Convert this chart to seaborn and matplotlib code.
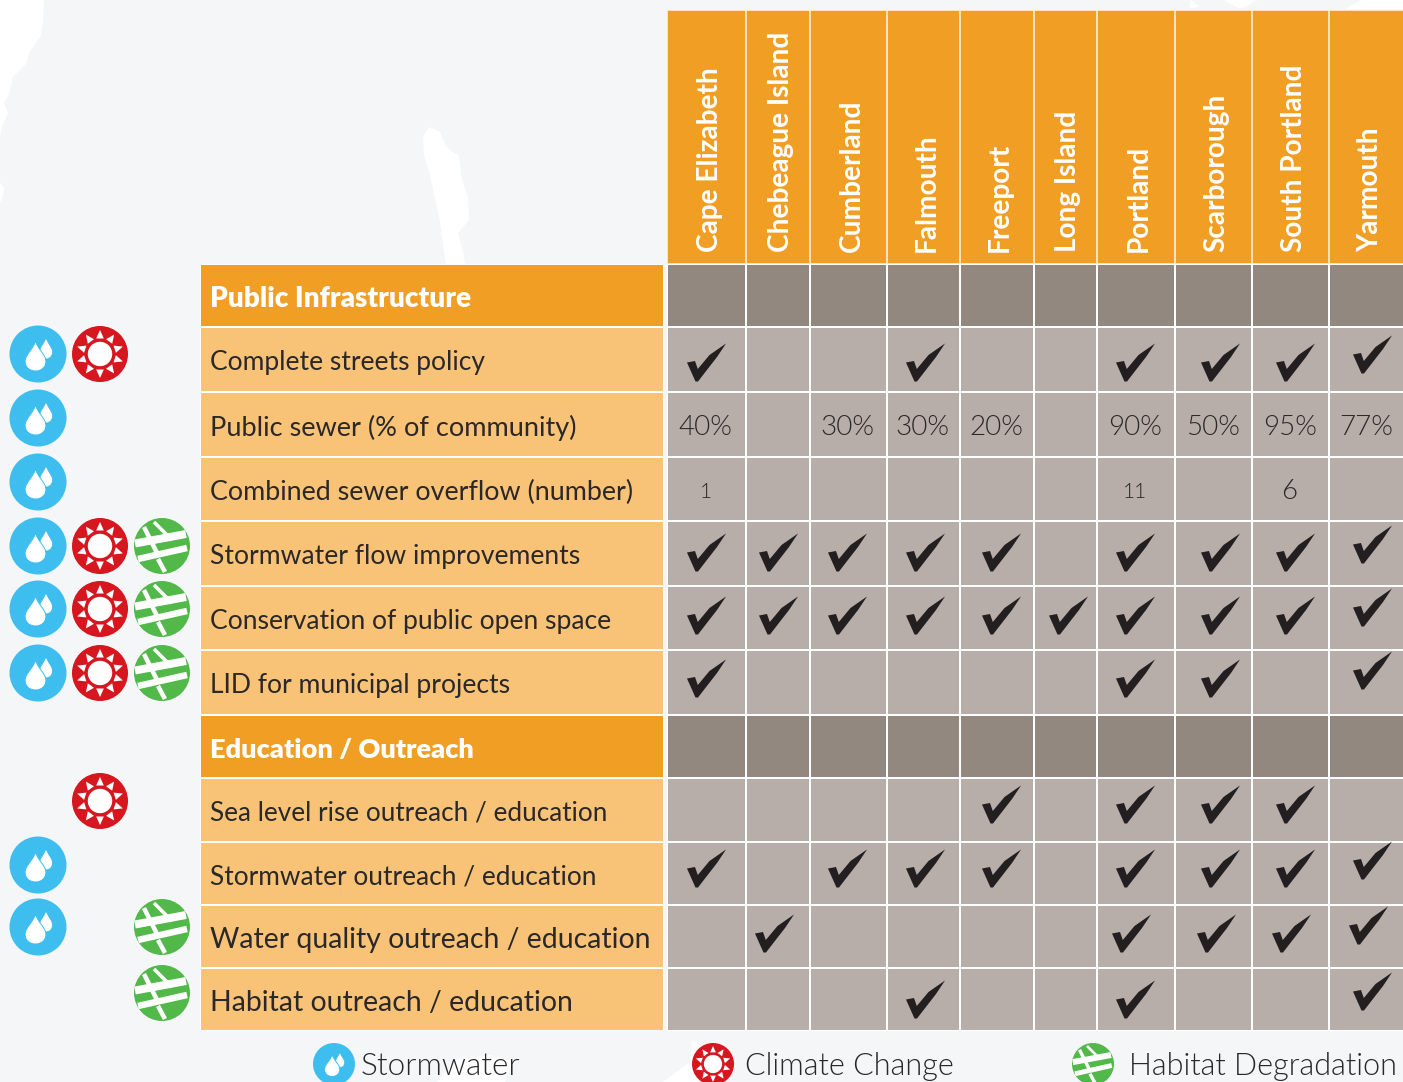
import numpy as np
import pandas as pd
import matplotlib
matplotlib.use("Agg")
import matplotlib.pyplot as plt
import seaborn as sns
from matplotlib.colors import ListedColormap
from matplotlib.patches import Circle, Polygon, PathPatch
from matplotlib.path import Path

# data
towns = ["Cape Elizabeth", "Chebeague Island", "Cumberland", "Falmouth", "Freeport",
         "Long Island", "Portland", "Scarborough", "South Portland", "Yarmouth"]
row_labels = ["Public Infrastructure", "Complete streets policy", "Public sewer (% of community)",
              "Combined sewer overflow (number)", "Stormwater flow improvements",
              "Conservation of public open space", "LID for municipal projects",
              "Education / Outreach", "Sea level rise outreach / education",
              "Stormwater outreach / education", "Water quality outreach / education",
              "Habitat outreach / education"]
blank = [""] * 10
complete_streets = ["x", "", "", "x", "", "", "x", "x", "x", "x"]
public_sewer = ["40%", "", "30%", "30%", "20%", "", "90%", "50%", "95%", "77%"]
combined_overflow = ["1", "", "", "", "", "", "11", "", "6", ""]
flow_improvements = ["x", "x", "x", "x", "x", "", "x", "x", "x", "x"]
open_space = ["x", "x", "x", "x", "x", "x", "x", "x", "x", "x"]
lid_projects = ["x", "", "", "", "", "", "x", "x", "", "x"]
sea_level = ["", "", "", "", "x", "", "x", "x", "x", ""]
stormwater_outreach = ["x", "", "x", "x", "x", "", "x", "x", "x", "x"]
water_quality = ["", "x", "", "", "", "", "x", "x", "x", "x"]
habitat_outreach = ["", "", "", "x", "", "", "x", "", "", "x"]
section_rows = [0, 7]

# which icons go with each row (stormwater, climate, habitat)
icons_stormwater = [0, 1, 1, 1, 1, 1, 1, 0, 0, 1, 1, 0]
icons_climate = [0, 1, 0, 0, 1, 1, 1, 0, 1, 0, 0, 0]
icons_habitat = [0, 0, 0, 0, 1, 1, 1, 0, 0, 0, 1, 1]
legend_labels = ["Stormwater", "Climate Change", "Habitat Degradation"]

# layout in pixels of the picture
W, H = 1403, 1082
col_edges = [667, 746, 810, 887, 960, 1034, 1097, 1175, 1252, 1329, 1405]
row_edges = [264, 327, 392, 457, 521, 586, 650, 715, 778, 842, 905, 968, 1031]
icon_x = [38, 100, 162]
icon_y = [0, 354, 418, 482, 546, 609, 673, 0, 801, 865, 927, 993]
check_dx = [-1, 0, -2, 1, 4, 2, -1, 6, 4, 5]
check_dy = [0, 2, 0, 0, -2, -3, -5, 0, -6, -6, -4, -1]
row_dx = [0, 0, 0, 0, 0, 0, 0, 0, 0, 0, -4, 0]

ORANGE = "#F19E25"
PEACH = "#F8C277"
GREY_DARK = "#928880"
GREY = "#B7ADA9"
BG = "#F5F6F8"
INK = "#2A2829"

sns.set_theme(style="white")
plt.rcParams["font.family"] = ["Lato", "DejaVu Sans"]

table = pd.DataFrame([blank, complete_streets, public_sewer, combined_overflow, flow_improvements,
                      open_space, lid_projects, blank, sea_level, stormwater_outreach,
                      water_quality, habitat_outreach], columns=towns, index=row_labels)
is_plain = np.array([[0 if i in section_rows else 1] * 10 for i in range(12)])

fig = plt.figure(figsize=(W / 100, H / 100), dpi=100, facecolor=BG)


def rect(x0, x1, y0, y1):
    return [x0 / W, 1 - y1 / H, (x1 - x0) / W, (y1 - y0) / H]


# backdrop map shapes and icons live in a pixel axes
bg = fig.add_axes([0, 0, 1, 1], zorder=0)
bg.set_xlim(0, W)
bg.set_ylim(H, 0)
bg.axis("off")
land = [
    [(44, 0), (43, 21), (41, 36), (30, 51), (26, 64), (13, 77), (9, 94), (4, 103), (8, 113), (2, 126), (0, 137), (0, 0)],
    [(0, 182), (4, 188), (2, 199), (0, 203)],
    [(423, 137), (429, 127), (440, 132), (446, 147), (459, 156), (462, 180), (468, 197), (469, 220), (458, 233),
     (464, 256), (466, 274), (473, 288), (462, 308), (459, 338), (452, 338), (451, 316), (445, 308), (447, 274),
     (440, 222), (429, 171), (424, 156)],
    [(437, 1082), (455, 1060), (490, 1055), (513, 1062), (505, 1082)],
    [(663, 1082), (690, 1062), (692, 1040), (705, 1050), (700, 1082)],
    [(1190, 0), (1200, 6), (1190, 9)],
    [(1240, 9), (1258, 0), (1224, 0)],
    [(1345, 9), (1362, 0), (1403, 0), (1403, 9)],
]
for shape in land:
    bg.add_patch(Polygon(shape, closed=True, fc="white", ec="none"))


def drop(cx, tip, bottom, hw):
    # teardrop, y grows downwards
    h = bottom - tip
    verts = [(cx, tip), (cx - hw * 0.25, tip + h * 0.3), (cx - hw, tip + h * 0.45), (cx - hw, tip + h * 0.68),
             (cx - hw, tip + h * 0.88), (cx - hw * 0.55, bottom), (cx, bottom),
             (cx + hw * 0.55, bottom), (cx + hw, tip + h * 0.88), (cx + hw, tip + h * 0.68),
             (cx + hw, tip + h * 0.45), (cx + hw * 0.25, tip + h * 0.3), (cx, tip)]
    return Path(verts, [Path.MOVETO] + [Path.CURVE4] * 12)


def stormwater_icon(ax, x, y, r):
    k = r / 28.5
    ax.add_patch(Circle((x, y), r, fc="#3DBEEF", ec="none"))
    ax.add_patch(PathPatch(drop(x + 8 * k, y - 17 * k, y + 5 * k, 6.6 * k), fc="white", ec="#3DBEEF", lw=0.7))
    ax.add_patch(PathPatch(drop(x - 2.5 * k, y - 13 * k, y + 17 * k, 10.4 * k), fc="white", ec="#3DBEEF", lw=0.7))


def climate_icon(ax, x, y, r):
    k = r / 28
    ax.add_patch(Circle((x, y), r, fc="#D7171F", ec="none"))
    ax.add_patch(Circle((x, y), 12.2 * k, fc="white", ec="none"))
    for a in np.deg2rad(90 + 36 * np.arange(10)):
        u = np.array([np.cos(a), -np.sin(a)])
        n = np.array([-u[1], u[0]])
        c = np.array([x, y])
        ax.add_patch(Polygon([c + u * 24 * k, c + u * 15.5 * k + n * 3.8 * k, c + u * 15.5 * k - n * 3.8 * k],
                             closed=True, fc="white", ec="none"))


def habitat_icon(ax, x, y, r):
    k = r / 28
    disc = Circle((x, y), r, fc="#52B84A", ec="none")
    ax.add_patch(disc)
    strips = [((-27, -2.5), (24, -12), 8), ((-24, 13), (25, 2), 6.5), ((-18, -19), (-5, 7), 4.5),
              ((-4, 13), (3, 26), 4.5), ((-8, -24), (10, -6), 3.5), ((-9, -1), (-3, 9), 1.5)]
    for p, q, w in strips:
        line, = ax.plot([x + p[0] * k, x + q[0] * k], [y + p[1] * k, y + q[1] * k], color="white",
                        lw=w * k * 0.72, solid_capstyle="butt")
        line.set_clip_path(disc)


for i in range(12):
    if icons_stormwater[i]:
        stormwater_icon(bg, icon_x[0], icon_y[i], 28.5)
    if icons_climate[i]:
        climate_icon(bg, icon_x[1], icon_y[i], 28)
    if icons_habitat[i]:
        habitat_icon(bg, icon_x[2], icon_y[i], 28)

stormwater_icon(bg, 334, 1064, 21)
climate_icon(bg, 713, 1064, 21)
habitat_icon(bg, 1093, 1064, 21)
for x, label, size in zip([361, 745, 1129], legend_labels, [22.7, 22, 22]):
    bg.text(x, 1075, label, fontsize=size, weight=300, color=INK, ha="left", va="baseline")

# town header
ax_top = fig.add_axes(rect(667, 1405, 10, 264), zorder=1)
sns.heatmap(np.zeros((1, 10)), ax=ax_top, cmap=ListedColormap([ORANGE]), cbar=False,
            linewidths=1.1, linecolor="#FBE3BD", xticklabels=False, yticklabels=False)
ax_top.set_xscale("function", functions=(lambda v: np.interp(v, np.arange(11), col_edges),
                                         lambda v: np.interp(v, col_edges, np.arange(11))))
ax_top.set_xlim(0, 10)
ax_top.set_xticks([])
ax_top.xaxis.set_minor_locator(plt.NullLocator())
for j, town in enumerate(towns):
    ax_top.text(j + 0.54, 0.953, town, rotation=90, ha="center", va="bottom", color="white",
                fontsize=20.2, weight=700)

# row label column
ax_lab = fig.add_axes(rect(199.5, 664, 264, 1031), zorder=1)
sns.heatmap(is_plain[:, :1], ax=ax_lab, cmap=ListedColormap([ORANGE, PEACH]), vmin=0, vmax=1, cbar=False,
            linewidths=1.1, linecolor="white", xticklabels=False, yticklabels=False)
ax_lab.set_yscale("function", functions=(lambda v: np.interp(v, np.arange(13), row_edges),
                                         lambda v: np.interp(v, row_edges, np.arange(13))))
ax_lab.set_ylim(12, 0)
ax_lab.set_yticks([])
ax_lab.yaxis.set_minor_locator(plt.NullLocator())
label_size = [20.1, 19, 19.5, 19.35, 19.1, 19.1, 19.1, 19.5, 18.8, 18.9, 20.4, 20.4]
for i, label in enumerate(row_labels):
    head = i in section_rows
    ax_lab.text(0.023, i + 0.55, label, ha="left", va="center",
                color="white" if head else INK, fontsize=label_size[i],
                weight=800 if head else 400)

# the grid itself
cells = table.where(~table.isin(["x"]), "")
ax = fig.add_axes(rect(667, 1405, 264, 1031), zorder=1)
sns.heatmap(is_plain, ax=ax, cmap=ListedColormap([GREY_DARK, GREY]), vmin=0, vmax=1, cbar=False,
            linewidths=1.1, linecolor="white", xticklabels=False, yticklabels=False,
            annot=cells.values, fmt="", annot_kws={"weight": 300, "color": INK, "fontsize": 20})
ax.set_xscale("function", functions=(lambda v: np.interp(v, np.arange(11), col_edges),
                                     lambda v: np.interp(v, col_edges, np.arange(11))))
ax.set_yscale("function", functions=(lambda v: np.interp(v, np.arange(13), row_edges),
                                     lambda v: np.interp(v, row_edges, np.arange(13))))
ax.set_xticks([])
ax.set_yticks([])
ax.xaxis.set_minor_locator(plt.NullLocator())
ax.yaxis.set_minor_locator(plt.NullLocator())
for t in ax.texts:
    if t.get_text() in ("1", "11"):
        t.set_fontsize(15)
    t.set_position((t.get_position()[0] - 0.012, t.get_position()[1] + 0.04))

# check marks as a custom marker, outline is centred on its box
tick_verts = np.array([(-19.5, 0), (-11.5, -1.5), (-8.7, 6.5), (3, -7.5), (19.5, -19),
                       (10.5, -5.5), (0, 8), (-8.5, 19), (-11, 19), (-19.5, 0)], dtype=float)
tick_verts[:, 1] *= -1
tick = Path(tick_verts, [Path.MOVETO] + [Path.LINETO] * 8 + [Path.CLOSEPOLY])

rows_i, cols_j = np.where(table.values == "x")
col_w = np.diff(col_edges)
row_h = np.diff(row_edges)
checks = pd.DataFrame({
    "x": cols_j + 0.5 + (np.array(check_dx)[cols_j] + np.array(row_dx)[rows_i]) / col_w[cols_j],
    "y": rows_i + 0.5 + (np.array(check_dy)[rows_i] - 8 * (cols_j == 9)) / row_h[rows_i],
})
sns.scatterplot(data=checks, x="x", y="y", ax=ax, marker=tick, s=790, color="#231F20", linewidth=0, legend=False)
ax.set(xlabel="", ylabel="")
ax.set_xlim(0, 10)
ax.set_ylim(12, 0)

fig.savefig("out.png", dpi=100, facecolor=BG)
